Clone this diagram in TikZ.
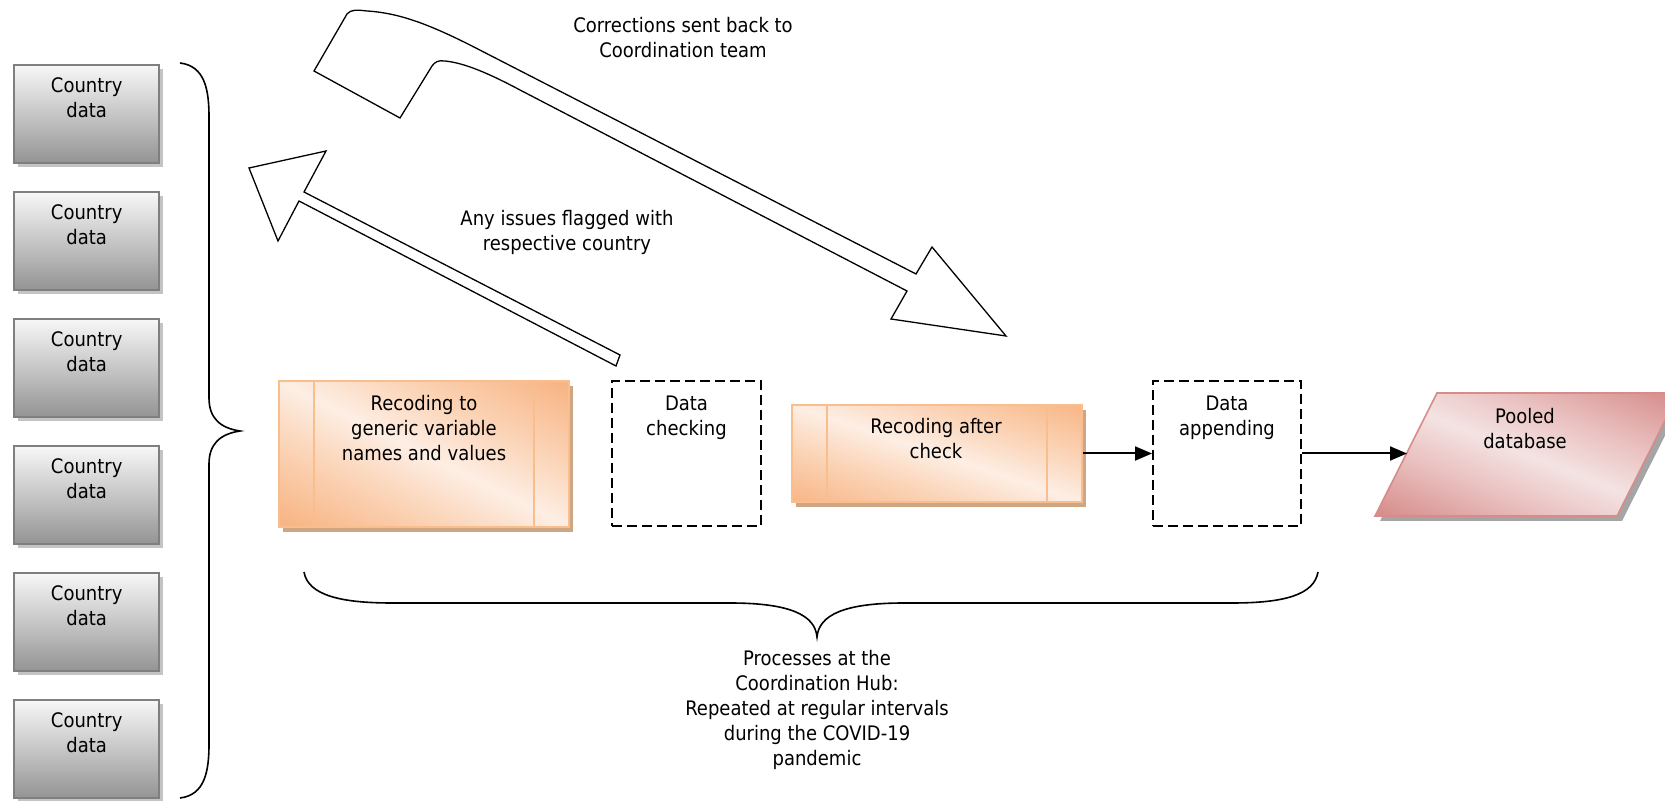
\documentclass[tikz,border=0pt]{standalone}
\usepackage{fontspec}
\setmainfont[FakeStretch=0.9]{DejaVu Sans}
\usetikzlibrary{calc,arrows.meta,shadows}
\definecolor{cbord}{HTML}{7F7F7F}
\definecolor{cshad}{HTML}{C4C4C4}
\definecolor{oedge}{HTML}{F9BE8E}
\definecolor{odark}{HTML}{F8B585}
\definecolor{omid}{HTML}{FBD4B7}
\definecolor{olite}{HTML}{FDEEE4}
\definecolor{oshad}{HTML}{CFA684}
\definecolor{pdark}{HTML}{D68C8A}
\definecolor{pmid}{HTML}{E9C0BF}
\definecolor{plite}{HTML}{F4E3E3}
\definecolor{pshad}{HTML}{A5A5A5}
\pgfdeclareverticalshading{oshA}{100bp}{color(0bp)=(odark); color(18bp)=(odark); color(36bp)=(omid); color(50bp)=(olite); color(64bp)=(omid); color(82bp)=(odark); color(100bp)=(odark)}
\pgfdeclareverticalshading{pshC}{100bp}{color(0bp)=(pdark); color(18bp)=(pdark); color(36bp)=(pmid); color(50bp)=(plite); color(64bp)=(pmid); color(82bp)=(pdark); color(100bp)=(pdark)}
\begin{document}
\begin{tikzpicture}[x=0.5pt,y=-0.5pt,
 txt/.style={font=\fontsize{10}{12.5}\selectfont, align=center, inner sep=0pt, execute at begin node=\strut, execute at end node=\strut},
 cbox/.style={draw=cbord, line width=1.2pt, top color=black!3, bottom color=black!42, minimum width=72.5pt, minimum height=49pt, anchor=north west, inner sep=0pt, drop shadow={shadow xshift=2pt, shadow yshift=-2pt, fill=cshad, opacity=1}},
 obox/.style={draw=oedge, line width=0.8pt, minimum width=145pt, inner sep=0pt, shading=oshA, drop shadow={shadow xshift=2pt, shadow yshift=-2.5pt, fill=oshad, opacity=1}},
 dbox/.style={draw=black, line width=1pt, dash pattern=on 5pt off 2.5pt, inner sep=0pt, minimum height=72.5pt},
 sep/.style={draw=oedge, line width=0.8pt},
 flow/.style={draw=black, line width=1pt, -{Triangle[length=8.5pt,width=7pt]}},
 block/.style={draw=black, line width=0.65pt, fill=white, line join=miter},
 brace/.style={draw=black, line width=0.8pt}
]
\useasboundingbox (0,0) rectangle (1665,801);

% country data boxes
\foreach \i/\t in {1/64,2/191,3/318,4/445,5/572,6/699}{
  \node[cbox] (c\i) at (13,\t) {};
  \node[txt] (ct\i) at ($(c\i.north)+(0,37)$) {Country\\data};
}

% left brace
\draw[brace] (180,63) .. controls (205,66) and (209,90) .. (209,117) -- (209,398)
  .. controls (209,418) and (220,428) .. (240,431)
  .. controls (220,434) and (209,444) .. (209,464) -- (209,744)
  .. controls (209,771) and (205,795) .. (180,798);

% block arrows
\draw[block] (314,71) -- (347,14) .. controls (351,9) and (358,10) .. (367,11)
  .. controls (400,13) and (430,25) .. (470,45) -- (916,274) -- (932,247) -- (1006,336)
  -- (891,319) -- (907,291) -- (520,90) .. controls (490,74) and (465,63) .. (445,61)
  .. controls (438,60) and (435,62) .. (432,66) -- (400,118) -- cycle;
\draw[block] (249,168) -- (326,151) -- (304,192) -- (620,355) -- (616,366) -- (299,201) -- (278,241) -- cycle;

\node[txt] (t1) at (683,41) {Corrections sent back to\\Coordination team};
\node[txt] (t2) at (567,234) {Any issues flagged with\\respective country};

% process boxes
\node[obox, shading angle=-26.7, minimum height=73pt] (o1) at (424,454) {};
\draw[sep] ($(o1.north west)+(36,0)$) -- ($(o1.south west)+(36,0)$);
\draw[sep] ($(o1.north east)+(-36,0)$) -- ($(o1.south east)+(-36,0)$);
\node[txt] (o1t) at (424,432) {Recoding to\\generic variable\\names and values};

\node[dbox, minimum width=74.5pt] (dc) at (686.5,453.5) {};
\node[txt] (dct) at (686.5,419) {Data\\checking};

\node[obox, shading angle=-18.5, minimum height=48.5pt] (o2) at (937,453.5) {};
\draw[sep] ($(o2.north west)+(36,0)$) -- ($(o2.south west)+(36,0)$);
\draw[sep] ($(o2.north east)+(-36,0)$) -- ($(o2.south east)+(-36,0)$);
\node[txt] (o2t) at (936,442) {Recoding after\\check};

\node[dbox, minimum width=74pt] (da) at (1227,453.5) {};
\node[txt] (dat) at (1227,419) {Data\\appending};

% pooled database
\fill[pshad] (1442,398) -- (1684,398) -- (1622,521) -- (1380,521) -- cycle;
\shade[shading=pshC, shading angle=-22]
  (1437,393) -- (1679,393) -- (1617,516) -- (1375,516) -- cycle;
\draw[pdark, line width=0.8pt] (1437,393) -- (1679,393) -- (1617,516) -- (1375,516) -- cycle;
\node[txt] (pdt) at (1525,432) {Pooled\\database};
\coordinate (pin) at (1407,453.5);

% connectors
\draw[flow] (o2) -- (da);
\draw[flow] (da) -- (pin);

% bottom brace
\draw[brace] (304,572) .. controls (308,595) and (340,603) .. (392,603) -- (730,603)
  .. controls (790,603) and (815,615) .. (817,637)
  .. controls (819,615) and (844,603) .. (904,603) -- (1232,603)
  .. controls (1284,603) and (1314,595) .. (1318,572);
\node[txt] (t3) at (817,712) {Processes at the\\Coordination Hub:\\Repeated at regular intervals\\during the COVID-19\\pandemic};
\end{tikzpicture}
\end{document}
